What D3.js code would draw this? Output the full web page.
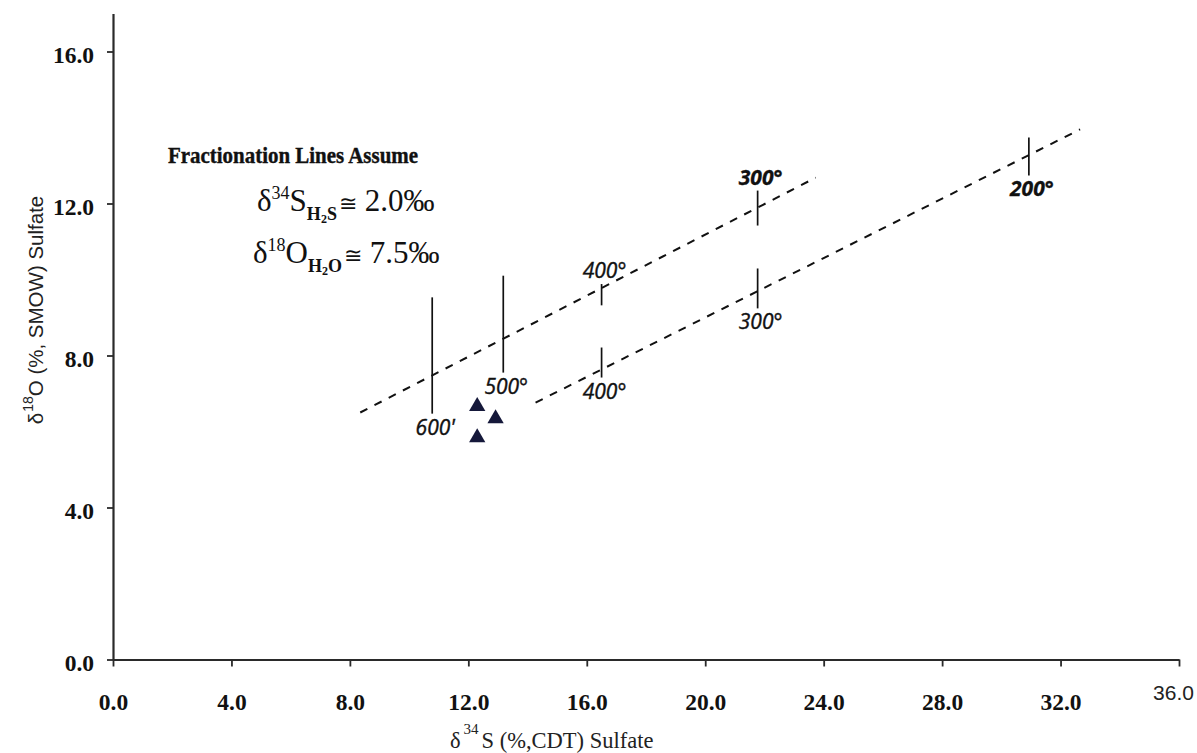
<!DOCTYPE html>
<html>
<head>
<meta charset="utf-8">
<script src="https://cdn.jsdelivr.net/npm/d3@7"></script>
<style>
  body { margin: 0; background: #fff; }
  svg { display: block; }
</style>
</head>
<body>
<svg id="chart" width="1197" height="753"></svg>
<script>
// axis ticks
const xTicks = [0, 4, 8, 12, 16, 20, 24, 28, 32, 36];
const yTicks = [0, 4, 8, 12, 16];

// fractionation lines, end points (d34S, d18O)
const upperLineX = [8.35, 23.73];
const upperLineY = [6.5, 12.68];
const lowerLineX = [14.27, 32.66];
const lowerLineY = [6.76, 13.95];

// temperature marks on the lines
const markTemps = ["600'", "500°", "400°", "300°", "400°", "300°", "200°"];
const markX = [10.78, 13.18, 16.5, 21.77, 16.5, 21.77, 30.93];
const markTop = [9.53, 10.1, 9.88, 12.34, 8.21, 10.29, 13.74];
const markBottom = [6.47, 7.55, 9.32, 11.42, 7.42, 9.24, 12.74];

// sulfate samples
const sampleX = [12.3, 12.92, 12.3];
const sampleY = [6.66, 6.34, 5.84];

const svg = d3.select("#chart");
const x = d3.scaleLinear().domain([0, 36]).range([113, 1179]);
const y = d3.scaleLinear().domain([0, 17]).range([659.5, 13.5]);

// label placement for the temperature marks
const labelAbove = [false, false, true, true, false, false, false];
const labelBold = [false, false, false, true, false, false, true];

// Axes
const xAxis = svg.append("g")
    .attr("transform", `translate(0,${y(0)})`)
    .call(d3.axisBottom(x).tickValues(xTicks).tickFormat(d3.format(".1f")).tickSize(7).tickSizeOuter(0));
xAxis.select(".domain").attr("stroke", "#2a2a2a").attr("stroke-width", 2.2);
xAxis.selectAll(".tick line").attr("stroke", "#2a2a2a").attr("stroke-width", 1.8);
xAxis.selectAll(".tick text")
    .attr("y", 50).attr("dy", 0)
    .attr("font-family", "Liberation Serif, serif")
    .attr("font-weight", "bold")
    .attr("font-size", 23.5)
    .attr("fill", "#111");
xAxis.selectAll(".tick text").filter(d => d === 36)
    .attr("y", 40).attr("dx", -6)
    .attr("font-family", "Liberation Sans, sans-serif")
    .attr("font-weight", "normal")
    .attr("font-size", 21)
    .attr("fill", "#222");

const yAxis = svg.append("g")
    .attr("transform", `translate(${x(0)},0)`)
    .call(d3.axisLeft(y).tickValues(yTicks).tickFormat(d3.format(".1f")).tickSize(6).tickPadding(13).tickSizeOuter(0));
yAxis.select(".domain").attr("stroke", "#2a2a2a").attr("stroke-width", 2.2);
yAxis.selectAll(".tick line").attr("stroke", "#2a2a2a").attr("stroke-width", 1.8);
yAxis.selectAll(".tick text")
    .attr("dy", "0.45em")
    .attr("font-family", "Liberation Serif, serif")
    .attr("font-weight", "bold")
    .attr("font-size", 23.5)
    .attr("fill", "#111");

// Axis titles
const xTitle = svg.append("text")
    .attr("x", 450).attr("y", 748)
    .attr("font-family", "Liberation Serif, serif")
    .attr("font-size", 22.5)
    .attr("fill", "#222");
xTitle.append("tspan").text("δ");
xTitle.append("tspan").attr("dx", 3).attr("dy", -14).attr("font-size", 15).text("34");
xTitle.append("tspan").attr("dx", 3).attr("dy", 14).text("S (%,CDT) Sulfate");

const yTitle = svg.append("text")
    .attr("transform", "translate(43,310) rotate(-90)")
    .attr("text-anchor", "middle")
    .attr("font-family", "Liberation Sans, Arial, sans-serif")
    .attr("font-size", 20.5)
    .attr("fill", "#222");
yTitle.append("tspan").text("δ");
yTitle.append("tspan").attr("dx", 1).attr("dy", -10).attr("font-size", 14).text("18");
yTitle.append("tspan").attr("dy", 10).text("O (%, SMOW) Sulfate");

// Fractionation lines
const line = d3.line().x(d => x(d[0])).y(d => y(d[1]));
[[upperLineX, upperLineY], [lowerLineX, lowerLineY]].forEach(([lx, ly]) => {
    svg.append("path")
        .datum(d3.zip(lx, ly))
        .attr("d", line)
        .attr("fill", "none")
        .attr("stroke", "#111")
        .attr("stroke-width", 2)
        .attr("stroke-dasharray", "8,8");
});

// Temperature marks
const marks = svg.append("g").selectAll("g")
    .data(markTemps.map((t, i) => ({ t, i })))
    .join("g");

marks.append("line")
    .attr("x1", d => x(markX[d.i])).attr("x2", d => x(markX[d.i]))
    .attr("y1", d => y(markTop[d.i])).attr("y2", d => y(markBottom[d.i]))
    .attr("stroke", "#111")
    .attr("stroke-width", 1.7);

marks.append("text")
    .attr("x", d => x(markX[d.i]) + 3)
    .attr("y", d => labelAbove[d.i] ? y(markTop[d.i]) - 6 : y(markBottom[d.i]) + 21)
    .attr("text-anchor", "middle")
    .attr("font-family", "Open Sans, sans-serif")
    .attr("font-style", "italic")
    .attr("font-weight", d => labelBold[d.i] ? 700 : 400)
    .attr("font-size", 21)
    .attr("fill", "#111")
    .attr("stroke", "#111")
    .attr("stroke-width", d => labelBold[d.i] ? 0.3 : 0.4)
    .text(d => d.t);

// Samples
svg.append("g").selectAll("path")
    .data(d3.zip(sampleX, sampleY))
    .join("path")
    .attr("transform", d => `translate(${x(d[0])},${y(d[1])})`)
    .attr("d", d3.symbol(d3.symbolTriangle, 115))
    .attr("fill", "#15183a");

// Annotation
const note = svg.append("g")
    .attr("font-family", "Liberation Serif, serif")
    .attr("fill", "#111");

note.append("text")
    .attr("x", 168).attr("y", 163)
    .attr("font-weight", "bold")
    .attr("font-size", 23)
    .attr("textLength", 250)
    .attr("lengthAdjust", "spacingAndGlyphs")
    .attr("stroke", "#111")
    .attr("stroke-width", 0.4)
    .text("Fractionation Lines Assume");

const s34 = note.append("text").attr("x", 257).attr("y", 211).attr("font-size", 31);
s34.append("tspan").text("δ");
s34.append("tspan").attr("dy", -12).attr("font-size", 18).text("34");
s34.append("tspan").attr("dy", 12).text("S");
s34.append("tspan").attr("dy", 9).attr("font-size", 18).attr("font-weight", "bold").text("H");
s34.append("tspan").attr("dy", 3).attr("font-size", 12).attr("font-weight", "bold").text("2");
s34.append("tspan").attr("dy", -3).attr("font-size", 18).attr("font-weight", "bold").text("S");
s34.append("tspan").attr("dy", -9).attr("dx", 2).attr("font-size", 22).text("≅");
s34.append("tspan").text(" 2.0‰");

const o18 = note.append("text").attr("x", 253).attr("y", 263).attr("font-size", 31);
o18.append("tspan").text("δ");
o18.append("tspan").attr("dy", -12).attr("font-size", 18).text("18");
o18.append("tspan").attr("dy", 12).text("O");
o18.append("tspan").attr("dy", 9).attr("font-size", 18).attr("font-weight", "bold").text("H");
o18.append("tspan").attr("dy", 3).attr("font-size", 12).attr("font-weight", "bold").text("2");
o18.append("tspan").attr("dy", -3).attr("font-size", 18).attr("font-weight", "bold").text("O");
o18.append("tspan").attr("dy", -9).attr("dx", 2).attr("font-size", 22).text("≅");
o18.append("tspan").text(" 7.5‰");
</script>
</body>
</html>
